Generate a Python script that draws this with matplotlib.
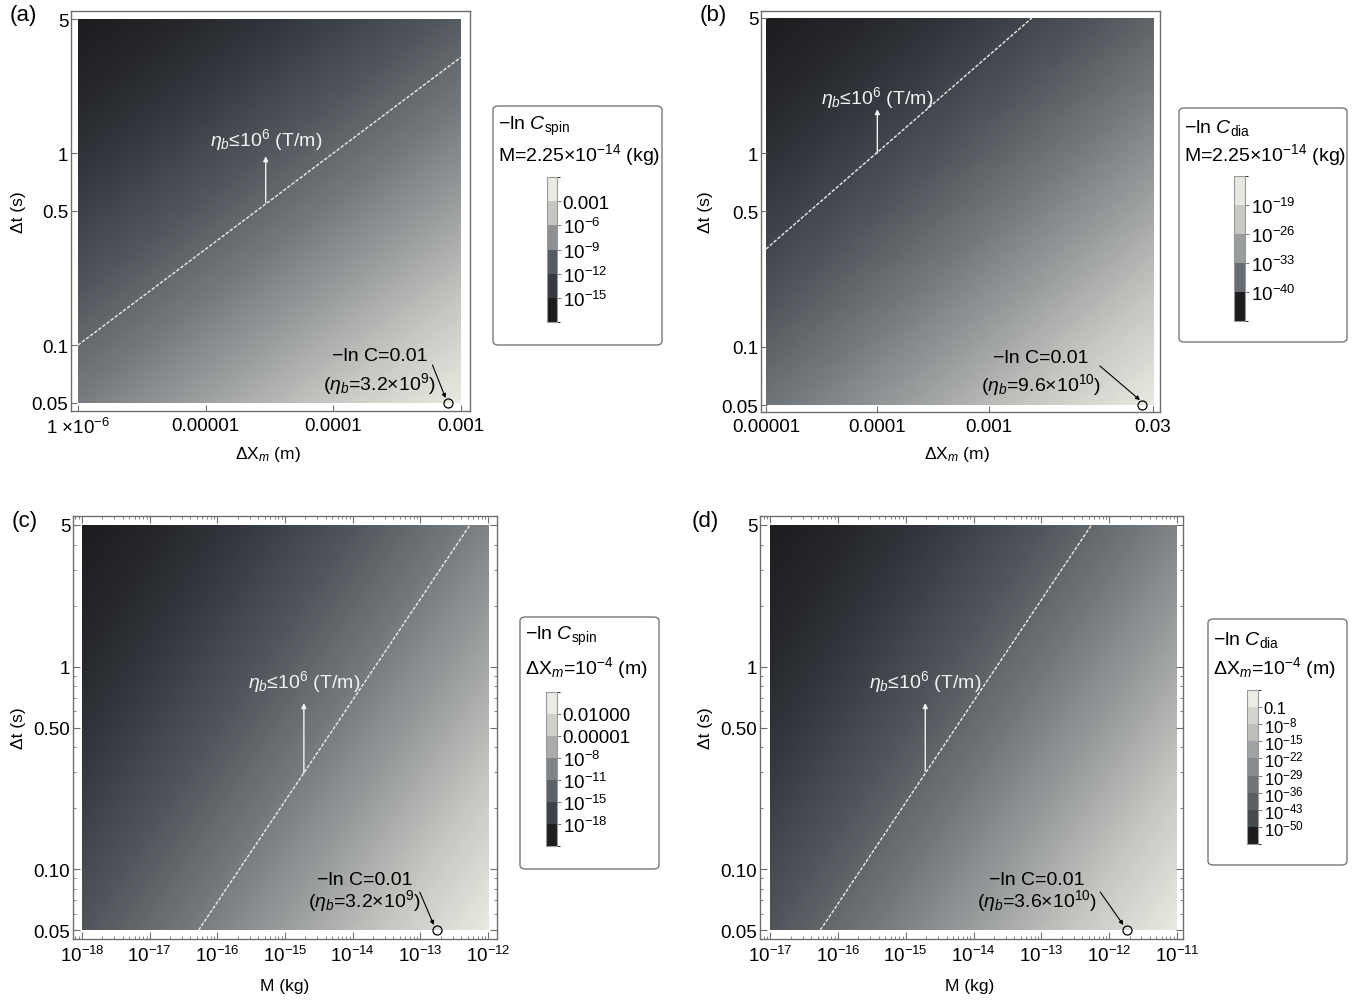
import numpy as np
import matplotlib
matplotlib.use("Agg")
import matplotlib.pyplot as plt
import matplotlib.cm as cm
from matplotlib.colors import LinearSegmentedColormap, ListedColormap, BoundaryNorm, Normalize
from matplotlib.patches import FancyBboxPatch, Rectangle
from matplotlib.ticker import FixedLocator, FixedFormatter, NullLocator, NullFormatter, LogLocator

plt.rcParams['font.family'] = ['Liberation Sans', 'DejaVu Sans']
plt.rcParams['mathtext.fontset'] = 'custom'
plt.rcParams['mathtext.rm'] = 'Liberation Sans'
plt.rcParams['mathtext.it'] = 'Liberation Sans:italic'
plt.rcParams['mathtext.bf'] = 'Liberation Sans:bold'

# ---------------- data ----------------
# log10(-ln C) read at grid nodes, rows are dt = 5, 0.5, 0.05 (top -> bottom)
dt_nodes = [5, 0.5, 0.05]

dx_a = [1e-6, 3.16e-5, 1e-3]
lnc_a = [[-15.8, -12.8, -9.8],
         [-11.8, -8.8, -5.8],
         [-7.8, -4.8, -1.8]]

dx_b = [1e-5, 5.5e-4, 3e-2]
lnc_b = [[-46.6, -36.2, -25.7],
         [-34.6, -24.2, -13.7],
         [-22.6, -12.2, -1.7]]

m_c = [1e-18, 1e-15, 1e-12]
lnc_c = [[-20.5, -14.5, -8.5],
         [-16.5, -10.5, -4.5],
         [-12.5, -6.5, -0.5]]

m_d = [1e-17, 1e-14, 1e-11]
lnc_d = [[-57.5, -39.5, -21.5],
         [-45.5, -27.5, -9.5],
         [-33.5, -15.5, 2.5]]

# eta_b = 10^6 T/m boundary lines (end points)
eta_a_x, eta_a_t = [1e-6, 1e-3], [0.1, 3.16]
eta_b_x, eta_b_t = [1e-5, 2.45e-3], [0.32, 5]
eta_c_x, eta_c_t = [5.3e-17, 5.4e-13], [0.05, 5]
eta_d_x, eta_d_t = [5.5e-17, 5.5e-13], [0.05, 5]

# points where -ln C = 0.01
pt_a, pt_b, pt_c, pt_d = 7.9e-4, 2.4e-2, 1.75e-13, 1.84e-12
note_eta = [r"($\eta_b$=3.2×10$^9$)", r"($\eta_b$=9.6×10$^{10}$)",
            r"($\eta_b$=3.2×10$^9$)", r"($\eta_b$=3.6×10$^{10}$)"]

# tick labels
yt_ab = [0.05, 0.1, 0.5, 1, 5]
yl_ab = ["0.05", "0.1", "0.5", "1", "5"]
yl_cd = ["0.05", "0.10", "0.50", "1", "5"]
xt_a = [1e-6, 1e-5, 1e-4, 1e-3]
xl_a = ["1 ×10$^{-6}$", "0.00001", "0.0001", "0.001"]
xt_b = [1e-5, 1e-4, 1e-3, 3e-2]
xl_b = ["0.00001", "0.0001", "0.001", "0.03"]
xt_c = [1e-18, 1e-17, 1e-16, 1e-15, 1e-14, 1e-13, 1e-12]
xl_c = ["$10^{-18}$", "$10^{-17}$", "$10^{-16}$", "$10^{-15}$", "$10^{-14}$", "$10^{-13}$", "$10^{-12}$"]
xt_d = [1e-17, 1e-16, 1e-15, 1e-14, 1e-13, 1e-12, 1e-11]
xl_d = ["$10^{-17}$", "$10^{-16}$", "$10^{-15}$", "$10^{-14}$", "$10^{-13}$", "$10^{-12}$", "$10^{-11}$"]

# legend bar labels (top -> bottom)
leg_a = ["0.001", "$10^{-6}$", "$10^{-9}$", "$10^{-12}$", "$10^{-15}$"]
leg_b = ["$10^{-19}$", "$10^{-26}$", "$10^{-33}$", "$10^{-40}$"]
leg_c = ["0.01000", "0.00001", "$10^{-8}$", "$10^{-11}$", "$10^{-15}$", "$10^{-18}$"]
leg_d = ["0.1", "$10^{-8}$", "$10^{-15}$", "$10^{-22}$", "$10^{-29}$", "$10^{-36}$", "$10^{-43}$", "$10^{-50}$"]

# ---------------- styles ----------------
gray_cmap = LinearSegmentedColormap.from_list("graytones", [
    (0.00, "#1c1d1f"), (0.12, "#25272a"), (0.25, "#353940"), (0.40, "#50555b"),
    (0.55, "#72777b"), (0.70, "#9a9d9e"), (0.85, "#c6c7c2"), (1.00, "#e9e9e1")])

band_a = ['#1c1c1e', '#36393e', '#565b61', '#8d9193', '#c5c6c1', '#e9eae2']
band_b = ['#1d1d1f', '#676c70', '#9a9d9e', '#c8c9c4', '#e8e8e2']
band_c = ['#1e1e20', '#3f4348', '#5d6267', '#7f8386', '#a9acab', '#cfd0ca', '#ebebe4']
band_d = ['#1c1c1e', '#454a4f', '#5a5f64', '#6f7479', '#878b8e', '#a0a3a3', '#bdbeba', '#d5d5cf', '#ecece5']

W, H = 1360, 1003
FRAME = '#6e6e6e'
fig = plt.figure(figsize=(W / 100, H / 100), dpi=100)


def rect(x0, y0, x1, y1):
    return [x0 / W, 1 - y1 / H, (x1 - x0) / W, (y1 - y0) / H]


def density(ax, xs, grid, pads):
    lx = np.log10(xs)
    lt = np.log10(dt_nodes)
    sx = (lx[-1] - lx[0]) / (len(lx) - 1)
    st = (lt[0] - lt[-1]) / (len(lt) - 1)
    ax.set_autoscale_on(False)
    spx, spt = lx[-1] - lx[0], lt[0] - lt[-1]
    ax.set_xscale('log')
    ax.set_yscale('log')
    ax.set_xlim(10 ** (lx[0] - pads[0] * spx), 10 ** (lx[-1] + pads[1] * spx))
    ax.set_ylim(10 ** (lt[-1] - pads[2] * spt), 10 ** (lt[0] + pads[3] * spt))
    g = np.array(grid)
    im = ax.imshow(g, cmap=gray_cmap, norm=Normalize(g.min(), g.max()),
                   extent=[lx[0] - sx / 2, lx[-1] + sx / 2, lt[-1] - st / 2, lt[0] + st / 2],
                   origin='upper', interpolation='bilinear', interpolation_stage='data',
                   aspect='auto', transform=ax.transLimits + ax.transAxes)
    clip = Rectangle((xs[0], dt_nodes[-1]), xs[-1] - xs[0], dt_nodes[0] - dt_nodes[-1],
                     transform=ax.transData, fc='none', ec='none')
    im.set_clip_path(clip)
    for s in ax.spines.values():
        s.set_color(FRAME)
        s.set_linewidth(1.0)


def ticks(ax, xt, xl, yl, full):
    ax.xaxis.set_major_locator(FixedLocator(xt))
    ax.xaxis.set_major_formatter(FixedFormatter(xl))
    ax.yaxis.set_major_locator(FixedLocator(yt_ab))
    ax.yaxis.set_major_formatter(FixedFormatter(yl))
    if full:
        ax.xaxis.set_minor_locator(LogLocator(base=10, subs=np.arange(2, 10), numticks=30))
        ax.yaxis.set_minor_locator(FixedLocator([0.06, 0.07, 0.08, 0.09, 0.2, 0.3, 0.4,
                                                 0.6, 0.7, 0.8, 0.9, 2, 3, 4]))
        ax.xaxis.set_minor_formatter(NullFormatter())
        ax.yaxis.set_minor_formatter(NullFormatter())
        ax.tick_params(which='both', direction='in', top=True, right=True, color=FRAME)
        ax.tick_params(which='major', length=5, width=0.8)
        ax.tick_params(which='minor', length=2.5, width=0.6)
    else:
        ax.xaxis.set_minor_locator(NullLocator())
        ax.yaxis.set_minor_locator(NullLocator())
        ax.tick_params(which='major', direction='in', length=4, width=0.8, color=FRAME)
    ax.tick_params(axis='x', labelsize=13.5, pad=4)
    ax.tick_params(axis='y', labelsize=13.5, pad=2)


def eta_mark(ax, lx, lt, ax_x, t0, t1, t_txt):
    ax.plot(lx, lt, color='#ececec', lw=1.0, ls=(0, (2.5, 1.2)))
    ax.annotate('', xy=(ax_x, t1), xytext=(ax_x, t0),
                arrowprops=dict(arrowstyle='-|>', color='#f2f2f2', lw=1.0,
                                mutation_scale=7, shrinkA=0, shrinkB=0))
    ax.text(ax_x, t_txt, r"$\eta_b$≤10$^6$ (T/m)", color='#f2f2f2',
            ha='center', va='center', fontsize=14)


def note(ax, px, tx, t1, t2, eta_lbl, a_from, a_to):
    ax.plot([px], [0.05], 'o', mfc='none', mec='black', ms=6.5, mew=0.9, clip_on=False)
    ax.text(tx, t1, "−ln C=0.01", ha='center', va='center', fontsize=14)
    ax.text(tx, t2, eta_lbl, ha='center', va='center', fontsize=14)
    ax.annotate('', xy=a_to, xytext=a_from,
                arrowprops=dict(arrowstyle='-|>', color='black', lw=0.8,
                                mutation_scale=6, shrinkA=0, shrinkB=0))


def legend(x0, y0, x1, y1, l1, l2, ty1, ty2, cb, colors, labels, lsize=13.5):
    box = FancyBboxPatch((x0 / W, 1 - y1 / H), (x1 - x0) / W, (y1 - y0) / H,
                         boxstyle='round,pad=0,rounding_size=0.004',
                         transform=fig.transFigure, fc='white', ec='#777777', lw=1.0,
                         zorder=-1)
    fig.patches.append(box)
    fig.text((x0 + 5) / W, 1 - ty1 / H, l1, ha='left', va='center', fontsize=14)
    fig.text((x0 + 5) / W, 1 - ty2 / H, l2, ha='left', va='center', fontsize=14)
    cax = fig.add_axes(rect(*cb))
    n = len(colors)
    sm = cm.ScalarMappable(norm=BoundaryNorm(np.arange(n + 1), n), cmap=ListedColormap(colors))
    c = fig.colorbar(sm, cax=cax, ticks=np.arange(1, n))
    c.ax.set_yticklabels(labels[::-1])
    c.ax.tick_params(length=3, width=0.7, color='#777777', labelsize=lsize, pad=1)
    c.outline.set_edgecolor('#999999')
    c.outline.set_linewidth(0.8)


# ---------------- (a) ----------------
ax_a = fig.add_axes(rect(71, 12, 470, 412))
density(ax_a, dx_a, lnc_a, (0.018, 0.024, 0.021, 0.021))
ticks(ax_a, xt_a, xl_a, yl_ab, False)
eta_mark(ax_a, eta_a_x, eta_a_t, 2.96e-5, 0.553, 0.964, 1.18)
note(ax_a, pt_a, 2.3e-4, 0.088, 0.0636, note_eta[0], (6.0e-4, 0.0788), (7.6e-4, 0.053))
legend(493, 107, 662, 346, r"−ln $C_{\mathrm{spin}}$", "M=2.25×10$^{-14}$ (kg)", 126, 155,
       (547, 178, 557, 323), band_a, leg_a)

# ---------------- (b) ----------------
ax_b = fig.add_axes(rect(761, 12, 1160, 413))
density(ax_b, dx_b, lnc_b, (0.013, 0.018, 0.018, 0.018))
ticks(ax_b, xt_b, xl_b, yl_ab, False)
eta_mark(ax_b, eta_b_x, eta_b_t, 1e-4, 1.0, 1.69, 1.95)
note(ax_b, pt_b, 2.96e-3, 0.0885, 0.0643, note_eta[1], (0.01, 0.0796), (0.0229, 0.053))
legend(1179, 109, 1347, 343, r"−ln $C_{\mathrm{dia}}$", "M=2.25×10$^{-14}$ (kg)", 128, 155,
       (1234, 177, 1245, 322), band_b, leg_b)

# ---------------- (c) ----------------
ax_c = fig.add_axes(rect(73, 517, 497, 940))
density(ax_c, m_c, lnc_c, (0.022, 0.022, 0.022, 0.022))
ticks(ax_c, xt_c, xl_c, yl_cd, True)
eta_mark(ax_c, eta_c_x, eta_c_t, 1.9e-15, 0.298, 0.66, 0.85)
note(ax_c, pt_c, 1.5e-14, 0.0893, 0.0703, note_eta[2], (9.8e-14, 0.077), (1.58e-13, 0.053))
legend(520, 618, 659, 870, r"−ln $C_{\mathrm{spin}}$", r"ΔX$_m$=10$^{-4}$ (m)", 636, 668,
       (546, 693, 557, 847), band_c, leg_c)

# ---------------- (d) ----------------
ax_d = fig.add_axes(rect(760, 517, 1183, 940))
density(ax_d, m_d, lnc_d, (0.025, 0.015, 0.022, 0.022))
ticks(ax_d, xt_d, xl_d, yl_cd, True)
eta_mark(ax_d, eta_d_x, eta_d_t, 1.94e-15, 0.305, 0.66, 0.85)
note(ax_d, pt_d, 8.7e-14, 0.0893, 0.0703, note_eta[3], (7.4e-13, 0.077), (1.62e-12, 0.053))
legend(1208, 620, 1347, 866, r"−ln $C_{\mathrm{dia}}$", r"ΔX$_m$=10$^{-4}$ (m)", 640, 668,
       (1247, 691, 1258, 845), band_d, leg_d, lsize=12)

# axis labels and panel tags
for x, y, s in [(268, 455, r"ΔX$_m$ (m)"), (957, 455, r"ΔX$_m$ (m)"),
                (285, 987, "M (kg)"), (970, 987, "M (kg)")]:
    fig.text(x / W, 1 - y / H, s, ha='center', va='center', fontsize=12.5)
for x, y in [(18, 212), (705, 212), (18, 728), (705, 728)]:
    fig.text(x / W, 1 - y / H, "Δt (s)", ha='center', va='center', rotation=90, fontsize=12.5)
for x, y, s in [(23, 15, "(a)"), (713, 15, "(b)"), (25, 522, "(c)"), (705, 522, "(d)")]:
    fig.text(x / W, 1 - y / H, s, ha='center', va='center', fontsize=16)

fig.savefig("out.png", dpi=100, facecolor='white')
